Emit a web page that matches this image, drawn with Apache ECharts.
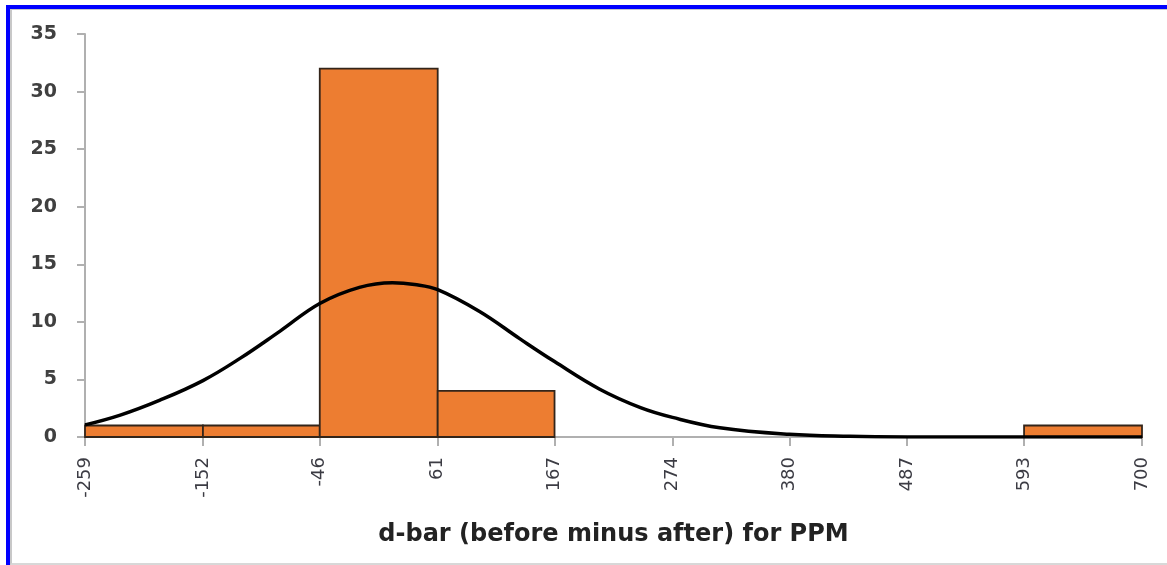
<!DOCTYPE html>
<html>
<head>
<meta charset="utf-8">
<script src="https://cdn.jsdelivr.net/npm/echarts@6/dist/echarts.min.js"></script>
<style>
  html, body { margin: 0; padding: 0; background: #fff; }
  #chart { position: absolute; left: 0; top: 0; width: 1167px; height: 565px; }
  #frame {
    position: absolute; left: 6px; top: 5px; width: 1200px; height: 556px;
    border-top: 4px solid #0000ff; border-left: 4px solid #0000ff;
    pointer-events: none;
  }
  #frame div {
    width: 100%; height: 100%;
    border-top: 1px solid #c8c8c8; border-left: 2px solid #c8c8c8; border-bottom: 2px solid #d8d8d8;
    box-sizing: border-box;
  }
</style>
</head>
<body>
<div id="chart"></div>
<div id="frame"><div></div></div>
<script>
// histogram bins (PPM)
var binEdges = [-259, -152, -46, 61, 167, 274, 380, 487, 593, 700];
var binCounts = [1, 1, 32, 4, 0, 0, 0, 0, 1];

// fitted normal curve
var curveX = [-259, -227, -191, -152, -118, -82, -46, -10, 20, 40, 61, 99, 136, 167, 208, 245, 274, 317, 380, 435, 487, 593, 700];
var curveY = [1.05, 1.9, 3.2, 4.9, 6.85, 9.2, 11.6, 13.0, 13.4, 13.25, 12.8, 10.9, 8.5, 6.55, 4.15, 2.55, 1.7, 0.8, 0.23, 0.06, 0.01, 0, 0];

var yTicks = [0, 5, 10, 15, 20, 25, 30, 35];

var bars = [];
for (var i = 0; i < binCounts.length; i++) {
  bars.push([binEdges[i], binEdges[i + 1], binCounts[i]]);
}
var curve = [];
for (var j = 0; j < curveX.length; j++) {
  curve.push([curveX[j], curveY[j]]);
}

var chart = echarts.init(document.getElementById('chart'));
var option = {
  backgroundColor: '#fff',
  animation: false,
  grid: { left: 85, right: 25, top: 34, bottom: 128 },
  xAxis: {
    type: 'value',
    min: binEdges[0],
    max: binEdges[binEdges.length - 1],
    name: 'd-bar (before minus after) for PPM',
    nameLocation: 'middle',
    nameGap: 86,
    nameTextStyle: { fontFamily: 'DejaVu Sans', fontWeight: 'bold', fontSize: 24, color: '#222' },
    splitLine: { show: false },
    axisLine: { lineStyle: { color: '#b0b0b0', width: 2 } },
    axisTick: { customValues: binEdges, length: 9, lineStyle: { color: '#b0b0b0', width: 2 } },
    axisLabel: {
      customValues: binEdges,
      rotate: 90,
      margin: 20,
      fontFamily: 'DejaVu Sans',
      fontSize: 18,
      color: '#3c3c44',
      formatter: function (v) { return String(v); }
    }
  },
  yAxis: {
    type: 'value',
    min: yTicks[0],
    max: yTicks[yTicks.length - 1],
    interval: 5,
    splitLine: { show: false },
    axisLine: { show: true, onZero: false, lineStyle: { color: '#b0b0b0', width: 2 } },
    axisTick: { show: true, length: 8, lineStyle: { color: '#b0b0b0', width: 2 } },
    axisLabel: {
      margin: 28,
      fontFamily: 'DejaVu Sans',
      fontWeight: 'bold',
      fontSize: 19,
      color: '#404040'
    }
  },
  series: [
    {
      type: 'custom',
      data: bars,
      encode: { x: [0, 1], y: 2 },
      renderItem: function (params, api) {
        if (api.value(2) === 0) return null;
        var p0 = api.coord([api.value(0), api.value(2)]);
        var p1 = api.coord([api.value(1), 0]);
        return {
          type: 'rect',
          shape: { x: p0[0], y: p0[1], width: p1[0] - p0[0], height: p1[1] - p0[1] },
          style: { fill: '#ED7D31', stroke: '#33251a', lineWidth: 1.8 }
        };
      },
      z: 2
    },
    {
      type: 'line',
      data: curve,
      smooth: 0.4,
      showSymbol: false,
      symbol: 'none',
      lineStyle: { color: '#000', width: 3.5 },
      z: 3
    }
  ]
};
chart.setOption(option);
</script>
</body>
</html>
